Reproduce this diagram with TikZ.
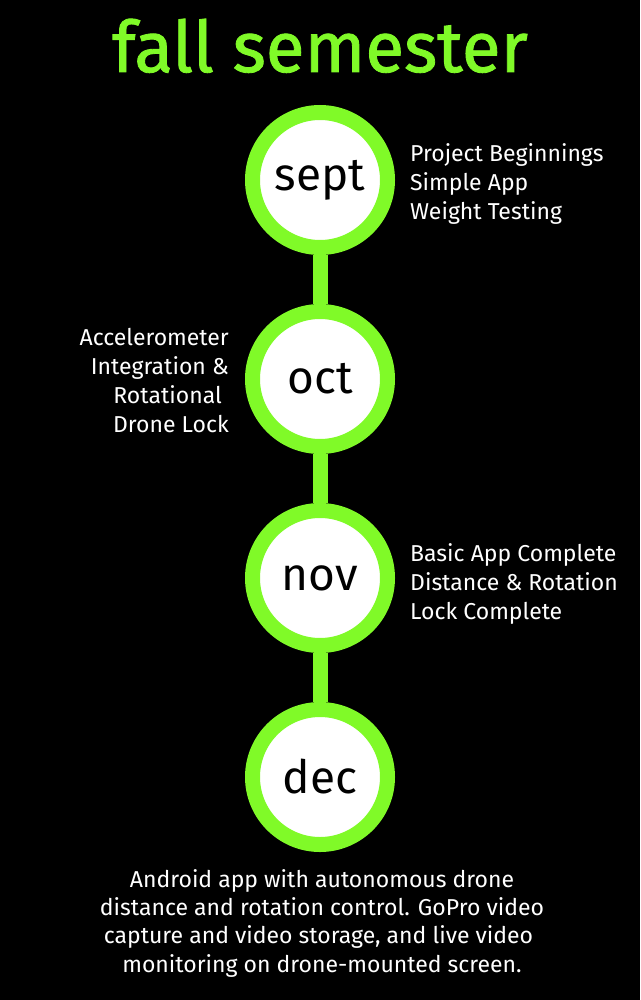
\documentclass[tikz,border=0pt]{standalone}
\usepackage{fontspec}
\setmainfont{Fira Sans}
\newfontfamily\titlefont[FakeBold=1.2]{Fira Sans}
\definecolor{lime}{RGB}{128,250,40}
\begin{document}
\begin{tikzpicture}[x=1pt,y=-1pt,
  month/.style={circle,fill=white,draw=lime,line width=15pt,minimum size=135pt,inner sep=0pt,font=\fontsize{46}{46}\selectfont,text=black},
  bar/.style={draw=lime,line width=15pt},
  note/.style={text=white,font=\fontsize{23}{29}\selectfont,inner sep=0pt}]
\fill[black] (0,0) rectangle (640,1000);
\useasboundingbox (0,0) rectangle (640,1000);
\node[text=lime,font=\titlefont\fontsize{71}{71}\selectfont,anchor=base,inner sep=0pt] (title) at (320,72) {fall semester};
\node[month] (sept) at (320,180) {sept};
\node[month] (oct) at (320,379) {oct};
\node[month] (nov) at (320,578) {nov};
\node[month] (dec) at (320,777) {dec};
\draw[bar] (sept.south) -- (oct.north);
\draw[bar] (oct.south) -- (nov.north);
\draw[bar] (nov.south) -- (dec.north);
\node[note,align=left,anchor=base west] (n1) at (410,220) {Project Beginnings\\Simple App\\Weight Testing};
\node[note,align=right,anchor=base east] (n2) at (229,432) {Accelerometer\\Integration \&\\Rotational\rule{7pt}{0pt}\\Drone Lock};
\node[note,align=left,anchor=base west] (n3) at (410,619) {Basic App Complete\\Distance \& Rotation\\Lock Complete};
\node[note,align=center,anchor=base,font=\fontsize{23}{28.3}\selectfont] (n4) at (322,972) {Android app with autonomous drone\\distance and rotation control. GoPro video\\capture and video storage, and live video\rule{7pt}{0pt}\\monitoring on drone-mounted screen.};
\end{tikzpicture}
\end{document}
